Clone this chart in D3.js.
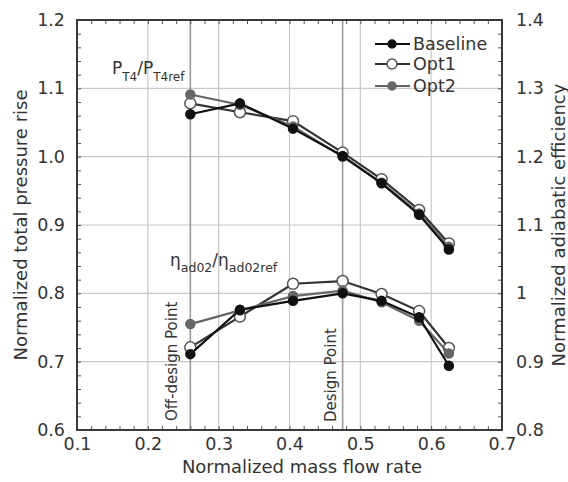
<!DOCTYPE html>
<html>
<head>
<meta charset="utf-8">
<script src="https://cdn.jsdelivr.net/npm/d3@7"></script>
<style>
body { margin: 0; background: #fff; }
text { font-family: "DejaVu Sans", Verdana, sans-serif; fill: #333; }
</style>
</head>
<body>
<div id="chart"></div>
<script>
// Data
var flowRate = [0.26, 0.33, 0.405, 0.475, 0.53, 0.583, 0.625];

// pressure rise (left axis)
var baselineP = [1.062, 1.078, 1.041, 1.001, 0.961, 0.915, 0.864];
var opt1P     = [1.078, 1.065, 1.052, 1.006, 0.967, 0.922, 0.873];
var opt2P     = [1.091, 1.076, 1.044, 1.000, 0.962, 0.917, 0.868];

// adiabatic efficiency (right axis)
var baselineE = [0.911, 0.976, 0.989, 1.000, 0.989, 0.965, 0.894];
var opt1E     = [0.921, 0.966, 1.014, 1.018, 0.999, 0.974, 0.920];
var opt2E     = [0.955, 0.975, 0.996, 1.004, 0.987, 0.960, 0.912];

var xTicks = [0.1, 0.2, 0.3, 0.4, 0.5, 0.6, 0.7];
var yLeftTicks = [0.6, 0.7, 0.8, 0.9, 1.0, 1.1, 1.2];
var yRightTicks = [0.8, 0.9, 1.0, 1.1, 1.2, 1.3, 1.4];
var refLines = [0.26, 0.475];
var seriesNames = ["Baseline", "Opt1", "Opt2"];

// Set up SVG
var svgWidth = 568;
var svgHeight = 482;
var margin = { top: 20, right: 66, bottom: 52, left: 77 };
var width = svgWidth - margin.left - margin.right;
var height = svgHeight - margin.top - margin.bottom;

var svg = d3.select("#chart").append("svg")
    .attr("width", svgWidth)
    .attr("height", svgHeight);

var chartGroup = svg.append("g")
    .attr("transform", `translate(${margin.left}, ${margin.top})`);

var xScale = d3.scaleLinear().domain([0.1, 0.7]).range([0, width]);
var yLeft = d3.scaleLinear().domain([0.6, 1.2]).range([height, 0]);
var yRight = d3.scaleLinear().domain([0.8, 1.4]).range([height, 0]);

// grid lines
chartGroup.append("g")
    .selectAll("line.vgrid")
    .data(xTicks.slice(1, -1))
    .enter().append("line")
    .attr("x1", d => xScale(d)).attr("x2", d => xScale(d))
    .attr("y1", 0).attr("y2", height)
    .attr("stroke", "#c8c8c8").attr("stroke-width", 1.2);

chartGroup.append("g")
    .selectAll("line.hgrid")
    .data(yLeftTicks.slice(1, -1))
    .enter().append("line")
    .attr("x1", 0).attr("x2", width)
    .attr("y1", d => yLeft(d)).attr("y2", d => yLeft(d))
    .attr("stroke", "#c8c8c8").attr("stroke-width", 1.2);

// off-design and design point lines
chartGroup.append("g")
    .selectAll("line")
    .data(refLines)
    .enter().append("line")
    .attr("x1", d => xScale(d)).attr("x2", d => xScale(d))
    .attr("y1", 0).attr("y2", height)
    .attr("stroke", "#9a9a9a").attr("stroke-width", 1.6);

chartGroup.append("text")
    .attr("transform", `translate(${xScale(0.26) - 13}, ${height - 9}) rotate(-90)`)
    .style("font-size", "15px")
    .text("Off-design Point");

chartGroup.append("text")
    .attr("transform", `translate(${xScale(0.475) - 7}, ${height - 8}) rotate(-90)`)
    .style("font-size", "15px")
    .text("Design Point");

// minor ticks (inward) on all four sides
var minorX = d3.range(0.1, 0.7001, 0.02);
var minorY = d3.range(0.6, 1.2001, 0.02);
var minorYR = d3.range(0.8, 1.4001, 0.02);

function styleTicks(g) {
    g.select(".domain").remove();
    g.selectAll("line").attr("stroke", "#555").attr("stroke-width", 1);
}

chartGroup.append("g").attr("transform", `translate(0, ${height})`)
    .call(d3.axisBottom(xScale).tickValues(minorX).tickSize(-4).tickFormat(""))
    .call(styleTicks);
chartGroup.append("g")
    .call(d3.axisTop(xScale).tickValues(minorX).tickSize(-4).tickFormat(""))
    .call(styleTicks);
chartGroup.append("g")
    .call(d3.axisLeft(yLeft).tickValues(minorY).tickSize(-4).tickFormat(""))
    .call(styleTicks);
chartGroup.append("g").attr("transform", `translate(${width}, 0)`)
    .call(d3.axisRight(yRight).tickValues(minorYR).tickSize(-4).tickFormat(""))
    .call(styleTicks);

// tick labels
function styleLabels(g) {
    g.select(".domain").remove();
    g.selectAll("line").remove();
    g.selectAll("text").style("font-size", "17.5px").attr("fill", "#3a3a3a")
        .style("font-family", "'DejaVu Sans', Verdana, sans-serif");
}

chartGroup.append("g").attr("transform", `translate(0, ${height})`)
    .call(d3.axisBottom(xScale).tickValues(xTicks).tickSize(0).tickPadding(8).tickFormat(d3.format(".1f")))
    .call(styleLabels);
chartGroup.append("g")
    .call(d3.axisLeft(yLeft).tickValues(yLeftTicks).tickSize(0).tickPadding(12).tickFormat(d3.format(".1f")))
    .call(styleLabels);
chartGroup.append("g").attr("transform", `translate(${width}, 0)`)
    .call(d3.axisRight(yRight).tickValues(yRightTicks).tickSize(0).tickPadding(14)
        .tickFormat(d => d === 1 ? "1" : d3.format(".1f")(d)))
    .call(styleLabels);

// frame
chartGroup.append("rect")
    .attr("width", width).attr("height", height)
    .attr("fill", "none").attr("stroke", "#3a3a3a").attr("stroke-width", 2);

// axis titles
chartGroup.append("text")
    .attr("x", 225).attr("y", height + 43)
    .attr("text-anchor", "middle")
    .style("font-size", "18px")
    .text("Normalized mass flow rate");

chartGroup.append("text")
    .attr("transform", `translate(${27 - margin.left}, ${height / 2}) rotate(-90)`)
    .attr("text-anchor", "middle")
    .style("font-size", "18px")
    .text("Normalized total pressure rise");

chartGroup.append("text")
    .attr("transform", `translate(${565 - margin.left}, ${height / 2}) rotate(-90)`)
    .attr("text-anchor", "middle")
    .style("font-size", "18px")
    .text("Normalized adiabatic efficiency");

// curve annotations
var pLabel = chartGroup.append("text")
    .attr("x", 35).attr("y", 54)
    .style("font-size", "17px");
pLabel.append("tspan").text("P");
pLabel.append("tspan").attr("dy", 7).style("font-size", "12px").text("T4");
pLabel.append("tspan").attr("dy", -7).text("/P");
pLabel.append("tspan").attr("dy", 7).style("font-size", "12px").text("T4ref");

var etaLabel = chartGroup.append("text")
    .attr("x", 93).attr("y", 246)
    .style("font-size", "17px");
etaLabel.append("tspan").text("η");
etaLabel.append("tspan").attr("dy", 6).style("font-size", "12.5px").text("ad02");
etaLabel.append("tspan").attr("dy", -6).text("/η");
etaLabel.append("tspan").attr("dy", 6).style("font-size", "12.5px").text("ad02ref");

// series
var seriesStyle = {
    "Baseline": { line: "#111", fill: "#111", stroke: "#111", r: 4.5 },
    "Opt1": { line: "#333", fill: "#fff", stroke: "#555", r: 5.5 },
    "Opt2": { line: "#666", fill: "#666", stroke: "#666", r: 4.5 }
};

var pressureData = { "Baseline": baselineP, "Opt1": opt1P, "Opt2": opt2P };
var efficiencyData = { "Baseline": baselineE, "Opt1": opt1E, "Opt2": opt2E };

function drawSeries(name, values, yScale) {
    var st = seriesStyle[name];
    var pts = flowRate.map((x, i) => ({ x: x, y: values[i] }));
    var line = d3.line().x(d => xScale(d.x)).y(d => yScale(d.y));
    chartGroup.append("path")
        .datum(pts)
        .attr("d", line)
        .attr("fill", "none")
        .attr("stroke", st.line)
        .attr("stroke-width", 2.2);
    chartGroup.append("g")
        .selectAll("circle")
        .data(pts)
        .enter().append("circle")
        .attr("cx", d => xScale(d.x))
        .attr("cy", d => yScale(d.y))
        .attr("r", st.r)
        .attr("fill", st.fill)
        .attr("stroke", st.stroke)
        .attr("stroke-width", 1.5);
}

["Opt1", "Opt2", "Baseline"].forEach(function(name) {
    drawSeries(name, pressureData[name], yLeft);
    drawSeries(name, efficiencyData[name], yRight);
});

// legend
var legend = svg.append("g");
var legendRows = [44, 64, 86];
seriesNames.forEach(function(name, i) {
    var st = seriesStyle[name];
    var row = legend.append("g").attr("transform", `translate(0, ${legendRows[i]})`);
    row.append("line")
        .attr("x1", 375).attr("x2", 410)
        .attr("stroke", st.line).attr("stroke-width", 2);
    row.append("circle")
        .attr("cx", 392).attr("cy", 0).attr("r", st.r - 0.5)
        .attr("fill", st.fill).attr("stroke", st.stroke).attr("stroke-width", 1.5);
    row.append("text")
        .attr("x", 413).attr("dy", "0.36em")
        .style("font-size", "17.5px")
        .attr("fill", name === "Opt2" ? "#666" : "#2a2a2a")
        .text(name);
});
</script>
</body>
</html>
